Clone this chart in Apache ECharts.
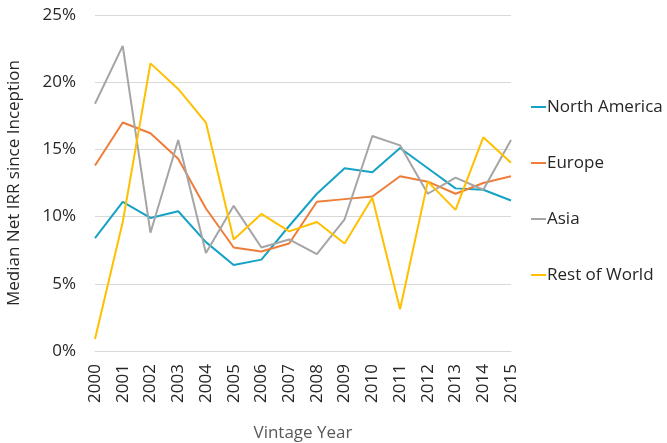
<!DOCTYPE html>
<html>
<head>
<meta charset="utf-8">
<script src="https://cdn.jsdelivr.net/npm/echarts@6/dist/echarts.min.js"></script>
<style>
  html, body { margin: 0; padding: 0; background: #fff; }
  #chart { width: 667px; height: 443px; }
</style>
</head>
<body>
<div id="chart"></div>
<script>
  var years = ['2000','2001','2002','2003','2004','2005','2006','2007','2008','2009','2010','2011','2012','2013','2014','2015'];
  var northAmerica = [8.4, 11.1, 9.9, 10.4, 8.1, 6.4, 6.8, 9.3, 11.7, 13.6, 13.3, 15.1, 13.6, 12.1, 12.0, 11.2];
  var europe = [13.8, 17.0, 16.2, 14.3, 10.6, 7.7, 7.4, 8.0, 11.1, 11.3, 11.5, 13.0, 12.6, 11.7, 12.5, 13.0];
  var asia = [18.4, 22.7, 8.8, 15.7, 7.3, 10.8, 7.7, 8.3, 7.2, 9.8, 16.0, 15.3, 11.7, 12.9, 12.0, 15.7];
  var restOfWorld = [0.9, 9.6, 21.4, 19.5, 17.0, 8.3, 10.2, 8.9, 9.6, 8.0, 11.4, 3.1, 12.6, 10.5, 15.9, 14.0];

  var names = ['North America', 'Europe', 'Asia', 'Rest of World'];
  var colors = ['#15A2C6', '#EE7D3A', '#A5A5A5', '#FFC000'];
  var values = [northAmerica, europe, asia, restOfWorld];

  var font = '"Open Sans", "Noto Sans", sans-serif';

  var series = names.map(function (n, i) {
      return {
          name: n,
          type: 'line',
          data: values[i],
          showSymbol: false,
          symbol: 'none',
          lineStyle: { width: 2, color: colors[i] },
          itemStyle: { color: colors[i] }
      };
  });

  var myChart = echarts.init(document.getElementById('chart'));
  var option = {
      animation: false,
      color: colors,
      grid: { left: 95, right: 156, top: 15, bottom: 92, outerBoundsMode: 'none' },
      legend: {
          orient: 'vertical',
          left: 531,
          top: 98,
          padding: 0,
          data: names,
          icon: 'rect',
          itemWidth: 15,
          itemHeight: 2,
          itemGap: 38,
          textStyle: { fontFamily: font, fontSize: 17, color: '#262626', lineHeight: 18, padding: [0, 0, 0, -4] }
      },
      xAxis: {
          type: 'category',
          data: years,
          boundaryGap: false,
          name: 'Vintage Year',
          nameLocation: 'middle',
          nameGap: 74,
          nameTextStyle: { fontFamily: font, fontSize: 17, color: '#595959' },
          axisLine: { lineStyle: { color: '#d9d9d9' } },
          axisTick: { show: false },
          axisLabel: { rotate: 90, margin: 13, fontFamily: font, fontSize: 17, color: '#262626' }
      },
      yAxis: {
          type: 'value',
          min: 0,
          max: 25,
          interval: 5,
          name: 'Median Net IRR since Inception',
          nameLocation: 'middle',
          nameGap: 72,
          nameTextStyle: { fontFamily: font, fontSize: 17, color: '#262626' },
          axisLine: { show: false },
          axisTick: { show: false },
          splitLine: { lineStyle: { color: '#d9d9d9', width: 1 } },
          axisLabel: { formatter: '{value}%', margin: 19, fontFamily: font, fontSize: 17, color: '#262626' }
      },
      series: series
  };
  myChart.setOption(option, true);
</script>
</body>
</html>
